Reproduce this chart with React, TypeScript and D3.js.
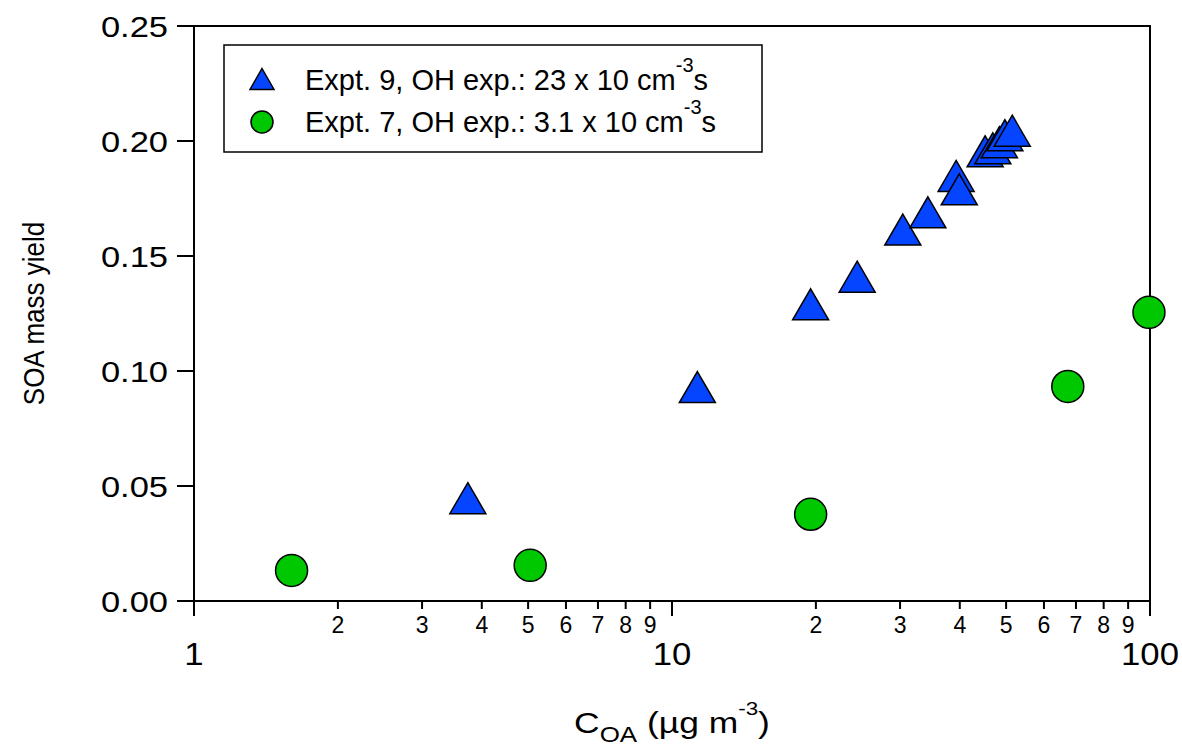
import { scaleLog, scaleLinear, range } from 'd3';

const WIDTH = 1182;
const HEIGHT = 747;
const MARGIN = { left: 194, right: 32, top: 26, bottom: 146 };
const MAJOR_TICK = 15;
const MINOR_TICK = 8;
const Y_TICK = 17;
const FONT = '"Liberation Sans", Arial, sans-serif';

const BLUE = '#0645ff';
const GREEN = '#00c800';

// Expt. 9 (triangles)
const expt9X = [3.74, 11.3, 19.5, 24.4, 30.4, 34.3, 39.3, 39.9, 45.2, 46.9, 48.4, 49.7, 51.5];
const expt9Y = [0.0447, 0.093, 0.129, 0.141, 0.1615, 0.169, 0.1848, 0.179, 0.1955, 0.1968, 0.1995, 0.2025, 0.2045];

// Expt. 7 (circles)
const expt7X = [1.6, 5.05, 19.5, 67.3, 99.5];
const expt7Y = [0.0133, 0.0155, 0.0377, 0.0933, 0.1255];

const yTicks = [0, 0.05, 0.1, 0.15, 0.2, 0.25];
const xMajor = [1, 10, 100];
const xMinor = [...range(2, 10), ...range(20, 100, 10)];

const legendItems = [
  { label: 'Expt. 9, OH exp.: 23 x 10 cm', marker: 'triangle' },
  { label: 'Expt. 7, OH exp.: 3.1 x 10 cm', marker: 'circle' },
];

function triangle(cx: number, cy: number, w: number, h: number) {
  return `M${cx},${cy - h / 2}L${cx + w / 2},${cy + h / 2}L${cx - w / 2},${cy + h / 2}Z`;
}

export default function App() {
  const x = scaleLog().domain([1, 100]).range([MARGIN.left, WIDTH - MARGIN.right]);
  const y = scaleLinear().domain([0, 0.25]).range([HEIGHT - MARGIN.bottom, MARGIN.top]);
  const [x0, x1] = x.range();
  const [y0, y1] = y.range();

  return (
    <svg
      width={WIDTH}
      height={HEIGHT}
      viewBox={`0 0 ${WIDTH} ${HEIGHT}`}
      style={{ position: 'absolute', left: 0, top: 0, background: '#fff' }}
      fontFamily={FONT}
    >
      {/* frame */}
      <rect x={x0} y={y1} width={x1 - x0} height={y0 - y1} fill="none" stroke="#000" strokeWidth={2} />

      {/* y axis */}
      {yTicks.map(t => (
        <g key={t} transform={`translate(${x0},${y(t)})`}>
          <line x2={-Y_TICK} stroke="#000" strokeWidth={2} />
          <text x={-22.6} dy="0.36em" textAnchor="end" fontSize={30} transform="scale(1.15,1)">
            {t.toFixed(2)}
          </text>
        </g>
      ))}

      {/* x axis */}
      {xMajor.map(t => (
        <g key={t} transform={`translate(${x(t)},${y0})`}>
          <line y2={MAJOR_TICK} stroke="#000" strokeWidth={2} />
          <text y={64} textAnchor="middle" fontSize={31} transform="scale(1.12,1)">
            {t}
          </text>
        </g>
      ))}
      {xMinor.map(t => (
        <g key={t} transform={`translate(${x(t)},${y0})`}>
          <line y2={MINOR_TICK} stroke="#000" strokeWidth={2} />
          <text y={32} textAnchor="middle" fontSize={23}>
            {String(t)[0]}
          </text>
        </g>
      ))}

      {/* axis titles */}
      <text
        transform={`translate(44,${(y0 + y1) / 2}) scale(1.15,1) rotate(-90)`}
        textAnchor="middle"
        fontSize={26}
      >
        SOA mass yield
      </text>
      <text
        transform={`translate(${(x0 + x1) / 2},733) scale(1.18,1)`}
        textAnchor="middle"
        fontSize={30}
      >
        C<tspan fontSize={22} dy={9}>OA</tspan>
        <tspan dy={-9}> (µg m</tspan>
        <tspan fontSize={19} dy={-18}>-3</tspan>
        <tspan dy={18}>)</tspan>
      </text>

      {/* data */}
      {expt7X.map((v, i) => (
        <circle key={i} cx={x(v)} cy={y(expt7Y[i])} r={16} fill={GREEN} stroke="#000" strokeWidth={1.5} />
      ))}
      {expt9X.map((v, i) => (
        <path key={i} d={triangle(x(v), y(expt9Y[i]), 36, 31)} fill={BLUE} stroke="#000" strokeWidth={1.5} />
      ))}

      {/* legend */}
      <rect x={224} y={45} width={538} height={107} fill="#fff" stroke="#000" strokeWidth={1.5} />
      {legendItems.map((item, i) => {
        const cy = 79 + i * 42;
        return (
          <g key={item.label}>
            {item.marker === 'triangle' ? (
              <path d={triangle(262, cy, 24, 21)} fill={BLUE} stroke="#000" strokeWidth={1.5} />
            ) : (
              <circle cx={262} cy={cy + 1} r={11} fill={GREEN} stroke="#000" strokeWidth={1.5} />
            )}
            <text x={305} y={cy + 11} fontSize={29}>
              {item.label}
              <tspan fontSize={20} dy={-18}>-3</tspan>
              <tspan dy={18}>s</tspan>
            </text>
          </g>
        );
      })}
    </svg>
  );
}
